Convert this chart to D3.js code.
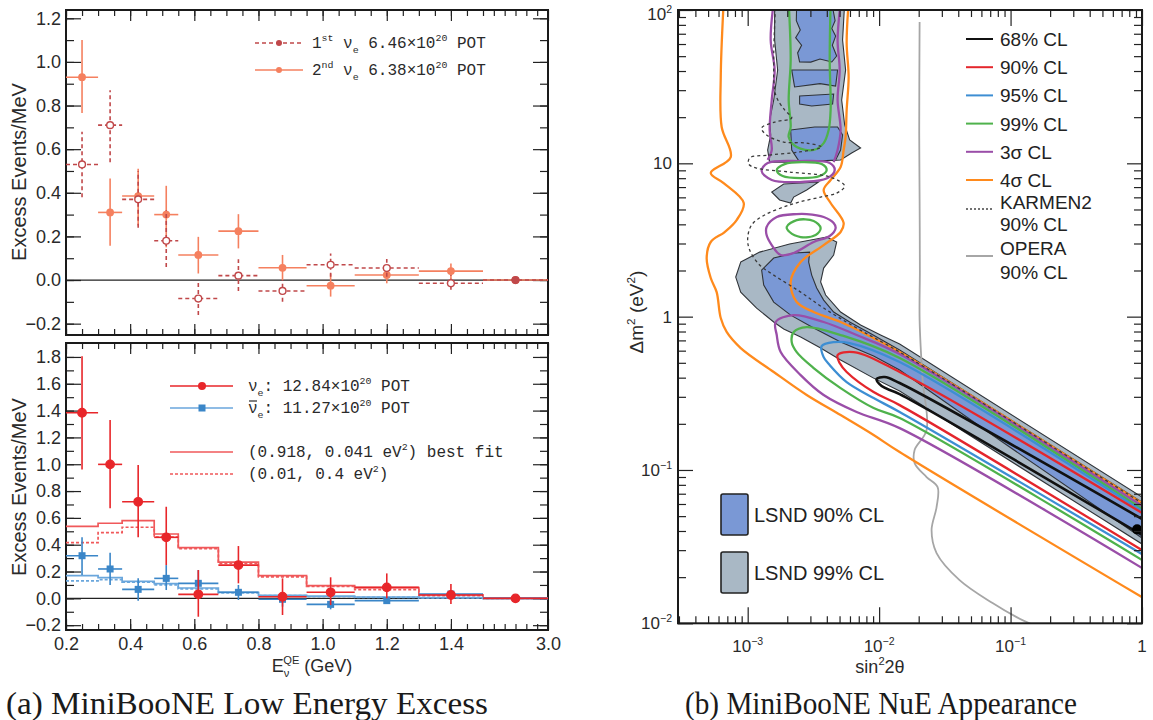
<!DOCTYPE html>
<html>
<head>
<meta charset="utf-8">
<script src="https://cdn.jsdelivr.net/npm/d3@7/dist/d3.min.js"></script>
<style>
  body { margin: 0; background: #fff; }
</style>
</head>
<body>
<svg id="fig" width="1153" height="720"></svg>
<script>
// ---------------- data: panel (a) ----------------
const binEdges = [0.2, 0.3, 0.375, 0.475, 0.55, 0.675, 0.8, 0.95, 1.1, 1.3, 1.5, 3.0];

// first / second nu_e runs (top)
const firstNue   = [0.53, 0.71, 0.37, 0.18, -0.085, 0.02, -0.05, 0.07, 0.055, -0.015, 0.0];
const firstNueLo = [0.38, 0.54, 0.24, 0.06, -0.16, -0.05, -0.10, 0.015, 0.015, -0.045, -0.005];
const firstNueHi = [0.68, 0.87, 0.50, 0.32, -0.01, 0.095, 0.0, 0.122, 0.096, 0.023, 0.005];
const secondNue   = [0.93, 0.31, 0.385, 0.30, 0.115, 0.224, 0.056, -0.026, 0.023, 0.041, 0.0];
const secondNueLo = [0.766, 0.157, 0.25, 0.15, 0.03, 0.145, 0.0, -0.076, -0.015, 0.0, -0.005];
const secondNueHi = [1.10, 0.466, 0.51, 0.432, 0.198, 0.302, 0.115, 0.03, 0.06, 0.076, 0.005];

// combined nu_e and nubar_e (bottom)
const nue    = [1.384, 0.999, 0.72, 0.455, 0.03, 0.248, 0.012, 0.045, 0.082, 0.025, 0.0];
const nueLo  = [0.961, 0.671, 0.455, 0.248, -0.137, 0.112, -0.124, -0.05, 0.0, -0.042, -0.01];
const nueHi  = [1.806, 1.329, 0.994, 0.683, 0.211, 0.39, 0.149, 0.157, 0.186, 0.107, 0.01];
const nubar   = [0.318, 0.219, 0.067, 0.149, 0.112, 0.045, -0.007, -0.045, -0.017, 0.032, 0.0];
const nubarLo = [0.174, 0.10, -0.017, 0.062, 0.025, -0.012, -0.062, -0.082, -0.042, 0.0, -0.008];
const nubarHi = [0.455, 0.34, 0.149, 0.248, 0.211, 0.10, 0.037, -0.007, 0.012, 0.062, 0.008];

// oscillation predictions (step histograms)
const fitNue      = [0.537, 0.56, 0.58, 0.48, 0.378, 0.27, 0.17, 0.095, 0.08, 0.027, 0.003];
const altNue      = [0.415, 0.49, 0.53, 0.457, 0.37, 0.26, 0.16, 0.09, 0.065, 0.02, 0.002];
const fitNubar    = [0.17, 0.155, 0.127, 0.11, 0.077, 0.045, 0.022, 0.017, 0.01, 0.005, 0.0];
const altNubar    = [0.13, 0.14, 0.12, 0.10, 0.07, 0.04, 0.02, 0.012, 0.008, 0.003, 0.0];

const xTickVals   = [0.2, 0.4, 0.6, 0.8, 1.0, 1.2, 1.4, 3.0];
const xTickLabels = ['0.2', '0.4', '0.6', '0.8', '1.0', '1.2', '1.4', '3.0'];
const yTopTicks = [-0.2, 0.0, 0.2, 0.4, 0.6, 0.8, 1.0, 1.2];
const yBotTicks = [-0.2, 0.0, 0.2, 0.4, 0.6, 0.8, 1.0, 1.2, 1.4, 1.6, 1.8];

// ---------------- data: panel (b) ----------------
// contour vertices, as [log10 sin^2 2theta, log10 dm^2]
const bestFit = [0.918, 0.041];

const lsnd99Up = [[-2.795,2.05],[-2.262,2.05],[-2.278,1.804],[-2.255,1.609],[-2.285,1.413],[-2.262,1.250],[-2.224,1.152],
  [-2.141,1.100],[-2.209,1.067],[-2.293,1.022],[-2.605,1.008],[-2.833,1.008],[-2.848,1.087],[-2.825,1.185],
  [-2.833,1.282],[-2.802,1.413],[-2.772,1.609],[-2.795,1.804]];
const lsnd99Blob = [[-2.460,0.878],[-2.726,0.865],[-2.817,0.813],[-2.757,0.761],[-2.673,0.741],[-2.650,0.780],[-2.551,0.826]];
const lsnd99Low = [[-3.053,0.356],[-2.909,0.421],[-2.681,0.474],[-2.399,0.519],[-2.323,0.487],[-2.346,0.402],[-2.422,0.317],
  [-2.445,0.226],[-2.407,0.141],[-2.293,0.030],[-2.141,-0.055],[-1.989,-0.120],[-1.844,-0.179],[0.05,-1.204],
  [0.05,-1.510],[-1.844,-0.485],[-2.042,-0.401],[-2.293,-0.283],[-2.445,-0.205],[-2.597,-0.133],[-2.726,-0.081],
  [-2.802,-0.035],[-2.932,0.056],[-3.053,0.160],[-3.091,0.258]];
const lsnd90Up = [
  [[-2.627,2.05],[-2.361,2.05],[-2.335,1.93],[-2.36,1.88],[-2.331,1.83],[-2.356,1.77],[-2.323,1.70],[-2.36,1.661],
   [-2.45,1.68],[-2.52,1.66],[-2.605,1.661],[-2.62,1.72],[-2.59,1.77],[-2.635,1.82],[-2.60,1.87],[-2.63,1.93]],
  [[-2.665,1.609],[-2.316,1.609],[-2.331,1.504],[-2.45,1.52],[-2.643,1.498]],
  [[-2.605,1.439],[-2.346,1.452],[-2.354,1.387],[-2.513,1.374],[-2.605,1.387]],
  [[-2.673,1.217],[-2.490,1.237],[-2.316,1.237],[-2.278,1.185],[-2.293,1.087],[-2.331,1.022],[-2.605,1.008],[-2.665,1.087]]
];
const lsnd90Low = [[-2.894,0.304],[-2.802,0.382],[-2.643,0.415],[-2.529,0.421],[-2.536,0.356],[-2.513,0.271],[-2.475,0.187],
  [-2.422,0.108],[-2.346,0.030],[-2.224,-0.035],[-2.072,-0.107],[-1.844,-0.218],[0.05,-1.236],[0.05,-1.473],
  [-1.084,-0.805],[-1.844,-0.348],[-2.042,-0.257],[-2.293,-0.166],[-2.498,-0.074],[-2.673,0.010],[-2.802,0.095],[-2.878,0.206]];

const cl68 = [[0.05,-1.344],[-1.844,-0.433],[-1.958,-0.394],[-2.019,-0.407],[-1.981,-0.453],[-1.844,-0.505],[0.05,-1.450]];
const cl90 = [[0.05,-1.306],[-1.844,-0.361],[-2.194,-0.231],[-2.316,-0.251],[-2.300,-0.303],[-2.247,-0.361],[-2.042,-0.492],
  [-1.844,-0.577],[0.05,-1.549]];
const cl95 = [[0.05,-1.294],[-1.844,-0.296],[-2.224,-0.172],[-2.346,-0.166],[-2.437,-0.192],[-2.422,-0.264],[-2.376,-0.316],
  [-2.247,-0.427],[-2.042,-0.531],[-1.844,-0.622],[0.05,-1.574]];
const cl99Diag = [[0.05,-1.282],[-1.844,-0.270],[-2.293,-0.120],[-2.551,-0.068],[-2.650,-0.100],[-2.665,-0.166],[-2.627,-0.231],
  [-2.498,-0.335],[-2.293,-0.466],[-2.042,-0.596],[-1.844,-0.661],[0.05,-1.613]];
const cl99Band = [[-2.688,2.05],[-2.673,1.674],[-2.688,1.413],[-2.673,1.237],[-2.688,1.172],[-2.627,1.106],[-2.498,1.087],
  [-2.422,1.132],[-2.384,1.217],[-2.369,1.348],[-2.376,1.674],[-2.369,2.05]];
const cl99Ring = [[-2.779,0.956],[-2.719,0.995],[-2.589,1.008],[-2.437,0.995],[-2.399,0.956],[-2.452,0.917],[-2.589,0.904],[-2.734,0.917]];
const cl99Island = [[-2.703,0.585],[-2.627,0.630],[-2.498,0.624],[-2.445,0.578],[-2.483,0.532],[-2.597,0.519],[-2.681,0.552]];

const sig3Diag = [[0.05,-1.262],[-1.844,-0.244],[-2.171,-0.120],[-2.422,-0.035],[-2.650,0.010],[-2.787,-0.035],[-2.779,-0.120],
  [-2.749,-0.231],[-2.597,-0.381],[-2.422,-0.511],[-2.171,-0.622],[-1.844,-0.727],[0.05,-1.665]];
const sig3BandL = [[-2.802,2.05],[-2.825,1.804],[-2.795,1.609],[-2.817,1.413],[-2.833,1.217],[-2.817,1.087],[-2.848,1.022]];
const sig3BandR = [[-2.293,2.05],[-2.316,1.804],[-2.300,1.609],[-2.316,1.413],[-2.293,1.217],[-2.316,1.087],[-2.346,1.008]];
const sig3Ring = [[-2.894,0.950],[-2.848,1.002],[-2.605,1.015],[-2.376,1.002],[-2.338,0.956],[-2.392,0.904],[-2.605,0.878],[-2.817,0.891]];
const sig3Island = [[-2.856,0.585],[-2.779,0.650],[-2.627,0.669],[-2.551,0.669],[-2.422,0.650],[-2.346,0.611],[-2.331,0.578],
  [-2.376,0.526],[-2.498,0.487],[-2.650,0.415],[-2.749,0.402],[-2.817,0.467],[-2.856,0.532]];

const sig4Left = [[-3.183,2.05],[-3.205,1.563],[-3.198,1.237],[-3.129,1.041],[-3.281,0.937],[-3.183,0.871],[-3.030,0.741],
  [-3.084,0.630],[-3.175,0.552],[-3.281,0.487],[-3.312,0.382],[-3.281,0.252],[-3.236,0.160],[-3.205,-0.009],
  [-3.160,-0.100],[-3.053,-0.205],[-2.802,-0.361],[-2.551,-0.511],[-2.293,-0.642],[-2.042,-0.772],[-1.844,-0.883],[0.05,-1.855]];
const sig4Right = [[-2.232,2.05],[-2.247,1.785],[-2.232,1.563],[-2.247,1.348],[-2.255,1.172],[-2.270,1.087],[-2.293,0.976],
  [-2.369,0.891],[-2.422,0.826],[-2.369,0.741],[-2.270,0.611],[-2.293,0.552],[-2.422,0.467],[-2.597,0.356],[-2.673,0.226],
  [-2.627,0.095],[-2.498,0.030],[-2.293,-0.035],[-2.042,-0.140],[-1.844,-0.231],[0.05,-1.243]];

const karmen2 = [[-2.787,2.05],[-2.802,1.674],[-2.787,1.446],[-2.719,1.348],[-2.665,1.296],[-2.795,1.269],[-2.894,1.230],
  [-2.856,1.185],[-2.726,1.139],[-2.551,1.132],[-2.437,1.106],[-2.605,1.074],[-2.833,1.054],[-2.985,1.035],[-2.992,0.995],
  [-2.932,0.969],[-2.681,0.943],[-2.376,0.911],[-2.262,0.852],[-2.323,0.806],[-2.445,0.780],[-2.605,0.748],[-2.726,0.715],
  [-2.871,0.663],[-2.970,0.598],[-3.000,0.513],[-2.985,0.434],[-2.909,0.337],[-2.802,0.271],[-2.597,0.160],[-2.422,0.056],
  [-2.171,-0.074],[-1.844,-0.231],[0.05,-1.243]];
const opera = [[-1.692,1.922],[-1.695,1.2],[-1.692,0.761],[-1.690,0.3],[-1.692,-0.022],[-1.669,-0.414],[-1.639,-0.740],
  [-1.730,-0.870],[-1.730,-0.955],[-1.639,-1.046],[-1.555,-1.112],[-1.563,-1.242],[-1.601,-1.392],[-1.563,-1.542],
  [-1.388,-1.718],[-1.137,-1.868],[-0.954,-1.960],[-0.833,-2.01]];

const clLabels = ['68% CL', '90% CL', '95% CL', '99% CL', '3\u03c3 CL', '4\u03c3 CL'];
const clColors = ['#111111', '#e4262c', '#3d8ed3', '#4fb24c', '#9a4ea8', '#ff8a1c'];

// ---------------- drawing ----------------
const sans = 'Liberation Sans, Arial, Helvetica, sans-serif';
const mono = 'Liberation Mono, Courier New, monospace';
const serif = 'Liberation Serif, Times New Roman, serif';
const svg = d3.select('#fig');

// text made of runs: [string, 'sup'|'sub'|'', optional dx]
function rich(g, x, y, parts, size, family, anchor, fill) {
  const t = g.append('text').attr('x', x).attr('y', y)
    .attr('font-size', size).attr('font-family', family)
    .attr('fill', fill || '#2a2a2a').attr('text-anchor', anchor || 'start');
  let off = 0;
  parts.forEach(([s, m, dx]) => {
    const target = m === 'sup' ? -0.42 * size : m === 'sub' ? 0.3 * size : 0;
    const ts = t.append('tspan').attr('dy', target - off).attr('font-size', m ? size * 0.62 : size).text(s);
    if (dx) ts.attr('dx', dx);
    off = target;
  });
  return t;
}

function tickAxis(g, axisFn, scale, pos, vertical, values, size) {
  const a = g.append('g')
    .attr('transform', vertical ? `translate(${pos},0)` : `translate(0,${pos})`)
    .call(axisFn(scale).tickValues(values).tickSize(-size).tickFormat(''));
  a.select('.domain').remove();
  a.selectAll('line').attr('stroke', '#222').attr('stroke-width', 1.2);
}

// ========== panel (a) ==========
const xE = d3.scaleLinear().domain([0.2, 1.5, 3.0]).range([66, 483, 548]);
const yTop = d3.scaleLinear().domain([-0.252, 1.238]).range([335, 10]);
const yBot = d3.scaleLinear().domain([-0.236, 1.904]).range([630, 343]);
const binCenters = binEdges.slice(0, -1).map((e, i) => (e + binEdges[i + 1]) / 2);

const xMinor = d3.range(0.2, 1.501, 0.05).concat([1.75, 2.0, 2.25, 2.5, 2.75]);

function panelAxes(y, top, bottom, majors, labels) {
  const g = svg.append('g');
  const minors = d3.range(-0.2, majors[majors.length - 1] + 0.01, 0.1);
  tickAxis(g, d3.axisBottom, xE, bottom, false, xMinor, 6);
  tickAxis(g, d3.axisBottom, xE, bottom, false, xTickVals, 11);
  tickAxis(g, d3.axisTop, xE, top, false, xMinor, 6);
  tickAxis(g, d3.axisTop, xE, top, false, xTickVals, 11);
  tickAxis(g, d3.axisLeft, y, 66, true, minors, 8);
  tickAxis(g, d3.axisLeft, y, 66, true, majors, 15);
  tickAxis(g, d3.axisRight, y, 548, true, minors, 8);
  tickAxis(g, d3.axisRight, y, 548, true, majors, 15);
  const lab = g.append('g').attr('transform', 'translate(66,0)')
    .call(d3.axisLeft(y).tickValues(majors).tickSize(0).tickPadding(5).tickFormat(d3.format('.1f')));
  lab.select('.domain').remove();
  lab.selectAll('text').attr('font-size', 18).attr('font-family', sans).attr('fill', '#2a2a2a');
  if (labels) {
    const lx = g.append('g').attr('transform', `translate(0,${bottom})`)
      .call(d3.axisBottom(xE).tickValues(xTickVals).tickSize(0).tickPadding(7)
        .tickFormat((d, i) => xTickLabels[i]));
    lx.select('.domain').remove();
    lx.selectAll('text').attr('font-size', 18).attr('font-family', sans).attr('fill', '#2a2a2a');
  }
  g.append('line').attr('x1', 66).attr('x2', 548).attr('y1', y(0)).attr('y2', y(0))
    .attr('stroke', '#222').attr('stroke-width', 1.3);
  g.append('rect').attr('x', 66).attr('y', top).attr('width', 548 - 66).attr('height', bottom - top)
    .attr('fill', 'none').attr('stroke', '#1a1a1a').attr('stroke-width', 2);
}

function series(y, vals, lo, hi, color, dash, marker) {
  const g = svg.append('g');
  g.selectAll('line.h').data(vals).join('line').attr('class', 'h')
    .attr('x1', (d, i) => xE(binEdges[i])).attr('x2', (d, i) => xE(binEdges[i + 1]))
    .attr('y1', d => y(d)).attr('y2', d => y(d))
    .attr('stroke', color).attr('stroke-width', 1.6).attr('stroke-dasharray', dash);
  g.selectAll('line.v').data(vals).join('line').attr('class', 'v')
    .attr('x1', (d, i) => xE(binCenters[i])).attr('x2', (d, i) => xE(binCenters[i]))
    .attr('y1', (d, i) => y(lo[i])).attr('y2', (d, i) => y(hi[i]))
    .attr('stroke', color).attr('stroke-width', 1.6).attr('stroke-dasharray', dash);
  if (marker === 'square') {
    g.selectAll('rect').data(vals).join('rect')
      .attr('x', (d, i) => xE(binCenters[i]) - 3.5).attr('y', d => y(d) - 3.5)
      .attr('width', 7).attr('height', 7).attr('fill', color);
  } else {
    g.selectAll('circle').data(vals).join('circle')
      .attr('cx', (d, i) => xE(binCenters[i])).attr('cy', d => y(d))
      .attr('r', marker === 'open' ? 3.4 : marker === 'big' ? 4.2 : 3.2)
      .attr('fill', (d, i) => marker === 'open' && i < vals.length - 1 ? '#fff' : color)
      .attr('stroke', color).attr('stroke-width', 1.4);
  }
}

function histo(y, vals, color, dash) {
  const pts = binEdges.map((e, i) => [e, vals[Math.min(i, vals.length - 1)]]);
  svg.append('path')
    .attr('d', d3.line().x(d => xE(d[0])).y(d => y(d[1])).curve(d3.curveStepAfter)(pts))
    .attr('fill', 'none').attr('stroke', color).attr('stroke-width', 1.7)
    .attr('stroke-dasharray', dash);
}

// top panel
panelAxes(yTop, 10, 335, yTopTicks, false);
series(yTop, secondNue, secondNueLo, secondNueHi, '#f5805f', null, 'filled');
series(yTop, firstNue, firstNueLo, firstNueHi, '#c0484a', '4,3', 'open');

// bottom panel
panelAxes(yBot, 343, 630, yBotTicks, true);
histo(yBot, altNue, '#f0585a', '3,2');
histo(yBot, fitNue, '#f0585a', null);
histo(yBot, altNubar, '#6aa6dc', '3,2');
histo(yBot, fitNubar, '#6aa6dc', null);
series(yBot, nubar, nubarLo, nubarHi, '#3a86c8', null, 'square');
series(yBot, nue, nueLo, nueHi, '#e8262a', null, 'big');

// legends panel (a)
const legA = svg.append('g');
legA.append('line').attr('x1', 255).attr('x2', 303).attr('y1', 43).attr('y2', 43)
  .attr('stroke', '#c0484a').attr('stroke-width', 1.6).attr('stroke-dasharray', '4,3');
legA.append('circle').attr('cx', 279).attr('cy', 43).attr('r', 3).attr('fill', '#c0484a');
rich(legA, 312, 48, [['1', ''], ['st', 'sup'], [' \u03bd', ''], ['e', 'sub'], [' 6.46\u00d710', ''], ['20', 'sup'], [' POT', '']], 16, mono);
legA.append('line').attr('x1', 255).attr('x2', 303).attr('y1', 70).attr('y2', 70)
  .attr('stroke', '#f5805f').attr('stroke-width', 1.6);
legA.append('circle').attr('cx', 279).attr('cy', 70).attr('r', 3).attr('fill', '#f5805f');
rich(legA, 312, 75, [['2', ''], ['nd', 'sup'], [' \u03bd', ''], ['e', 'sub'], [' 6.38\u00d710', ''], ['20', 'sup'], [' POT', '']], 16, mono);

const legB = svg.append('g');
legB.append('line').attr('x1', 170).attr('x2', 233).attr('y1', 386).attr('y2', 386).attr('stroke', '#e8262a').attr('stroke-width', 1.6);
legB.append('circle').attr('cx', 202).attr('cy', 386).attr('r', 4).attr('fill', '#e8262a');
rich(legB, 248, 391, [['\u03bd', ''], ['e', 'sub'], [': 12.84\u00d710', ''], ['20', 'sup'], [' POT', '']], 16, mono);
legB.append('line').attr('x1', 170).attr('x2', 233).attr('y1', 408).attr('y2', 408).attr('stroke', '#6aa6dc').attr('stroke-width', 1.6);
legB.append('rect').attr('x', 198.5).attr('y', 404.5).attr('width', 7).attr('height', 7).attr('fill', '#3a86c8');
rich(legB, 248, 413, [['\u03bd', ''], ['e', 'sub'], [': 11.27\u00d710', ''], ['20', 'sup'], [' POT', '']], 16, mono);
// bar over the antineutrino symbol
legB.append('line').attr('x1', 249).attr('x2', 257).attr('y1', 401).attr('y2', 401).attr('stroke', '#2a2a2a').attr('stroke-width', 1.2);
legB.append('line').attr('x1', 170).attr('x2', 233).attr('y1', 452).attr('y2', 452).attr('stroke', '#f0585a').attr('stroke-width', 1.6);
rich(legB, 248, 457, [['(0.918, 0.041 eV', ''], ['2', 'sup'], [') best fit', '']], 16, mono);
legB.append('line').attr('x1', 170).attr('x2', 233).attr('y1', 474).attr('y2', 474).attr('stroke', '#f0585a')
  .attr('stroke-width', 1.6).attr('stroke-dasharray', '3,2');
rich(legB, 248, 479, [['(0.01, 0.4 eV', ''], ['2', 'sup'], [')', '']], 16, mono);

// axis titles panel (a)
[172, 487].forEach(cy => {
  svg.append('text').attr('transform', `translate(26,${cy}) rotate(-90)`)
    .attr('text-anchor', 'middle').attr('font-size', 20).attr('font-family', sans).attr('fill', '#2a2a2a')
    .text('Excess Events/MeV');
});
rich(svg, 312, 672, [['E', ''], ['\u03bd', 'sub'], ['QE', 'sup', -6], [' (GeV)', '']], 18, sans, 'middle');

// ========== panel (b) ==========
const xS = d3.scaleLog().domain([2.95e-4, 1]).range([678, 1142]);
const yM = d3.scaleLog().domain([0.01, 100]).range([623.3, 10]);
const pt = p => [xS(10 ** p[0]), yM(10 ** p[1])];

svg.append('defs').append('clipPath').attr('id', 'clipB')
  .append('rect').attr('x', 678).attr('y', 10).attr('width', 464).attr('height', 613.3);
const gB = svg.append('g').attr('clip-path', 'url(#clipB)');

const closedLine = d3.line().curve(d3.curveCatmullRomClosed.alpha(0.5));
const openLine = d3.line().curve(d3.curveCatmullRom.alpha(0.5));
const polyLine = d3.line().curve(d3.curveLinearClosed);

// LSND regions
[lsnd99Up, lsnd99Blob, lsnd99Low].forEach(poly => {
  gB.append('path').attr('d', polyLine(poly.map(pt)))
    .attr('fill', '#a9b8c5').attr('stroke', '#2f3338').attr('stroke-width', 1.1);
});
lsnd90Up.concat([lsnd90Low]).forEach(poly => {
  gB.append('path').attr('d', polyLine(poly.map(pt)))
    .attr('fill', '#7a98d5').attr('stroke', '#2f3338').attr('stroke-width', 1.1);
});

// OPERA
gB.append('path').attr('d', openLine(opera.map(pt)))
  .attr('fill', 'none').attr('stroke', '#a6a6a6').attr('stroke-width', 1.8);

function contour(pts, color, closed, w) {
  gB.append('path').attr('d', (closed ? closedLine : openLine)(pts.map(pt)))
    .attr('fill', 'none').attr('stroke', color).attr('stroke-width', w || 2.3);
}
contour(sig4Left, clColors[5]);
contour(sig4Right, clColors[5]);
contour(sig3Diag, clColors[4]);
contour(sig3BandL, clColors[4]);
contour(sig3BandR, clColors[4]);
contour(sig3Ring, clColors[4], true);
contour(sig3Island, clColors[4], true);
contour(cl99Diag, clColors[3]);
contour(cl99Band, clColors[3]);
contour(cl99Ring, clColors[3], true);
contour(cl99Island, clColors[3], true);
contour(cl95, clColors[2]);
contour(cl90, clColors[1]);
contour(cl68, clColors[0], false, 2.6);

// KARMEN2
gB.append('path').attr('d', openLine(karmen2.map(pt)))
  .attr('fill', 'none').attr('stroke', '#3a3a3a').attr('stroke-width', 1.3).attr('stroke-dasharray', '3,3');

gB.append('circle').attr('cx', xS(bestFit[0])).attr('cy', yM(bestFit[1])).attr('r', 5).attr('fill', '#000');

// axes panel (b)
const decX = [1e-3, 1e-2, 1e-1, 1];
const decY = [1e-2, 1e-1, 1, 10, 100];
const minorX = [1e-4, 1e-3, 1e-2, 1e-1].flatMap(d => d3.range(2, 10).map(k => k * d)).filter(v => v > 2.95e-4 && v < 1);
const minorY = [1e-2, 1e-1, 1, 10].flatMap(d => d3.range(2, 10).map(k => k * d));
const gAx = svg.append('g');
tickAxis(gAx, d3.axisBottom, xS, 623.3, false, minorX, 7);
tickAxis(gAx, d3.axisBottom, xS, 623.3, false, decX, 16);
tickAxis(gAx, d3.axisTop, xS, 10, false, minorX, 7);
tickAxis(gAx, d3.axisTop, xS, 10, false, decX, 16);
tickAxis(gAx, d3.axisLeft, yM, 678, true, minorY, 8);
tickAxis(gAx, d3.axisLeft, yM, 678, true, decY, 15);
tickAxis(gAx, d3.axisRight, yM, 1142, true, minorY, 8);
tickAxis(gAx, d3.axisRight, yM, 1142, true, decY, 15);
gAx.append('rect').attr('x', 678).attr('y', 10).attr('width', 464).attr('height', 613.3)
  .attr('fill', 'none').attr('stroke', '#1a1a1a').attr('stroke-width', 2);

const expLabel = v => {
  const e = Math.round(Math.log10(v));
  if (e === 0) return [['1', '']];
  if (e === 1) return [['10', '']];
  return [['10', ''], [e < 0 ? '\u2212' + (-e) : String(e), 'sup']];
};
decX.forEach(v => rich(gAx, xS(v), 652, expLabel(v), 17, sans, 'middle'));
decY.forEach(v => rich(gAx, 672, Math.max(yM(v) + 6, 20), expLabel(v), 17, sans, 'end'));

rich(svg, 880, 673, [['sin', ''], ['2', 'sup'], ['2\u03b8', '']], 18, sans, 'middle');
const gYt = svg.append('g').attr('transform', 'translate(643,312) rotate(-90)');
rich(gYt, 0, 0, [['\u0394m', ''], ['2', 'sup'], [' (eV', ''], ['2', 'sup'], [')', '']], 19, sans, 'middle');

// legend panel (b)
const legR = svg.append('g');
clLabels.forEach((lab, i) => {
  const y = 39 + i * 28.2;
  legR.append('line').attr('x1', 966).attr('x2', 993).attr('y1', y).attr('y2', y)
    .attr('stroke', clColors[i]).attr('stroke-width', 2);
  legR.append('text').attr('x', 1000).attr('y', y + 7).attr('font-size', 19).attr('font-family', sans)
    .attr('fill', '#222').text(lab);
});
legR.append('line').attr('x1', 966).attr('x2', 993).attr('y1', 209).attr('y2', 209)
  .attr('stroke', '#444').attr('stroke-width', 1.3).attr('stroke-dasharray', '2,2');
legR.append('text').attr('x', 1000).attr('y', 209).attr('font-size', 19).attr('font-family', sans).attr('fill', '#222').text('KARMEN2');
legR.append('text').attr('x', 1000).attr('y', 231).attr('font-size', 19).attr('font-family', sans).attr('fill', '#222').text('90% CL');
legR.append('line').attr('x1', 966).attr('x2', 993).attr('y1', 256).attr('y2', 256)
  .attr('stroke', '#a6a6a6').attr('stroke-width', 2);
legR.append('text').attr('x', 1000).attr('y', 255).attr('font-size', 19).attr('font-family', sans).attr('fill', '#222').text('OPERA');
legR.append('text').attr('x', 1000).attr('y', 279).attr('font-size', 19).attr('font-family', sans).attr('fill', '#222').text('90% CL');

[['LSND 90% CL', '#7a98d5', 494], ['LSND 99% CL', '#a9b8c5', 552]].forEach(([lab, c, y]) => {
  legR.append('rect').attr('x', 721).attr('y', y).attr('width', 27).attr('height', 41).attr('rx', 2)
    .attr('fill', c).attr('stroke', '#222').attr('stroke-width', 1.6);
  legR.append('text').attr('x', 754).attr('y', y + 28).attr('font-size', 20).attr('font-family', sans)
    .attr('fill', '#222').text(lab);
});

// captions
svg.append('text').attr('x', 247).attr('y', 714).attr('text-anchor', 'middle').attr('font-size', 31)
  .attr('font-family', serif).attr('fill', '#1a1a1a')
  .attr('textLength', 482).attr('lengthAdjust', 'spacingAndGlyphs')
  .text('(a) MiniBooNE Low Energy Excess');
svg.append('text').attr('x', 881).attr('y', 714).attr('text-anchor', 'middle').attr('font-size', 31)
  .attr('font-family', serif).attr('fill', '#1a1a1a')
  .attr('textLength', 392).attr('lengthAdjust', 'spacingAndGlyphs')
  .text('(b) MiniBooNE NuE Appearance');
</script>
</body>
</html>
